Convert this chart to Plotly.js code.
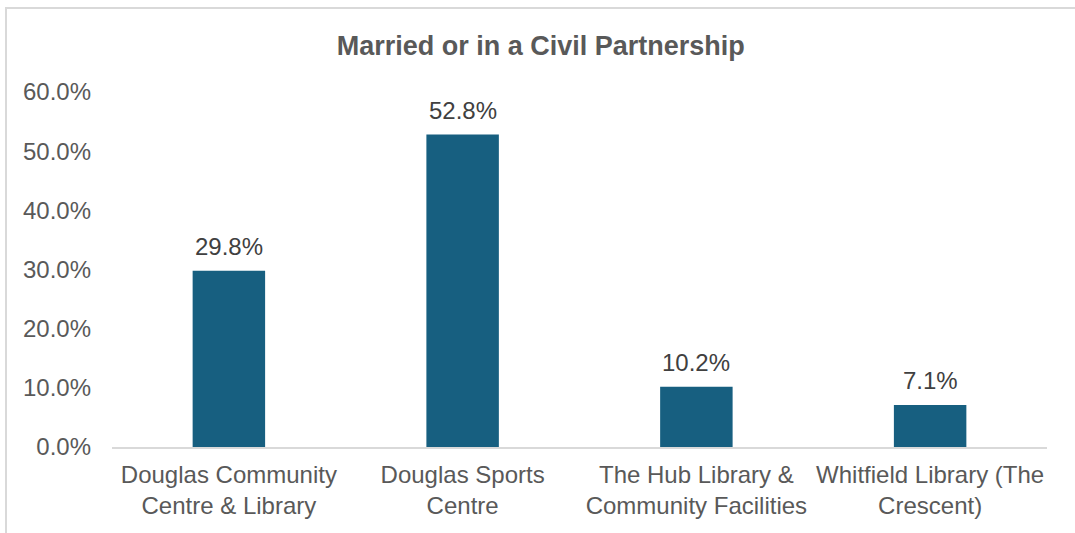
<!DOCTYPE html>
<html>
<head>
<meta charset="utf-8">
<script src="https://cdn.plot.ly/plotly-3.0.1.min.js"></script>
<style>
html,body{margin:0;padding:0;background:#fff;overflow:hidden;}
#frame{position:absolute;left:5px;top:7px;width:1200px;height:700px;border:2px solid #d9d9d9;}
#chart{position:absolute;left:0;top:0;width:1075px;height:533px;}
</style>
</head>
<body>
<div id="frame"></div>
<div id="chart"></div>
<script>
const categories = [
  "Douglas Community<br>Centre & Library",
  "Douglas Sports<br>Centre",
  "The Hub Library &<br>Community Facilities",
  "Whitfield Library (The<br>Crescent)"
];
const values = [0.298, 0.528, 0.102, 0.071];
const labels = ["29.8%", "52.8%", "10.2%", "7.1%"];
const yTickVals = [0, 0.1, 0.2, 0.3, 0.4, 0.5, 0.6];
const yTickText = ["0.0%", "10.0%", "20.0%", "30.0%", "40.0%", "50.0%", "60.0%"];

const font = "Liberation Sans, Arial, sans-serif";
const annotations = categories.map((c, i) => ({
  x: c, y: values[i], xref: "x", yref: "y",
  text: labels[i], showarrow: false, yanchor: "bottom",
  yshift: 10, borderpad: 0,
  font: {family: font, size: 24, color: "#404040"}
}));
Plotly.newPlot("chart", [{
  type: "bar",
  x: categories,
  y: values,
  marker: {color: "#175f80"},
  hoverinfo: "none"
}], {
  width: 1075, height: 533,
  paper_bgcolor: "rgba(0,0,0,0)",
  plot_bgcolor: "rgba(0,0,0,0)",
  margin: {l: 112, r: 28, t: 92, b: 86},
  bargap: 0.69,
  showlegend: false,
  annotations: annotations,
  title: {
    text: "<b>Married or in a Civil Partnership</b>",
    font: {family: font, size: 27, color: "#595959"},
    xref: "container", x: 0.503, y: 0.915, yanchor: "middle", xanchor: "center"
  },
  xaxis: {
    showgrid: false, showline: true, linecolor: "#d9d9d9", linewidth: 2,
    ticks: "", ticklabelstandoff: 5,
    tickfont: {family: font, size: 24, color: "#595959"},
    automargin: false
  },
  yaxis: {
    range: [0, 0.6], showgrid: false, zeroline: false, showline: false,
    tickvals: yTickVals, ticktext: yTickText, ticks: "",
    ticklabelstandoff: 20,
    tickfont: {family: font, size: 24, color: "#595959"},
    automargin: false
  }
}, {staticPlot: true});
</script>
</body>
</html>
